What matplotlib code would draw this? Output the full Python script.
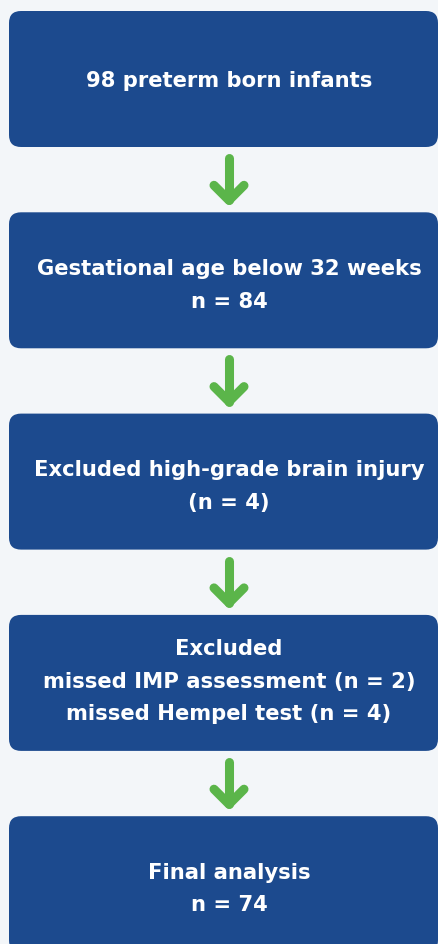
import matplotlib.pyplot as plt
from matplotlib.patches import FancyBboxPatch

# flow chart steps (top to bottom)
steps = [
    "98 preterm born infants",
    "Gestational age below 32 weeks\nn = 84",
    "Excluded high-grade brain injury\n(n = 4)",
    "Excluded\nmissed IMP assessment (n = 2)\nmissed Hempel test (n = 4)",
    "Final analysis\nn = 74",
]

W, H = 439, 945
BG = "#f3f6f9"
BOX = "#1c4a8e"
GREEN = "#5bb54a"

box_left, box_right = 9, 438
box_top0, box_h, pitch = 12, 136, 201.3

fig = plt.figure(figsize=(W / 100, H / 100), dpi=100, facecolor=BG)
ax = fig.add_axes([0, 0, 1, 1])
ax.set_xlim(0, W)
ax.set_ylim(H, 0)
ax.axis("off")
ax.set_facecolor(BG)

cx = 229
# small vertical nudge per line count, to sit text like the original
nudge = {1: 1, 2: 4, 3: -2}
for i, label in enumerate(steps):
    top = box_top0 + i * pitch
    ax.add_patch(FancyBboxPatch(
        (box_left, top), box_right - box_left, box_h,
        boxstyle="round,pad=0,rounding_size=12",
        facecolor=BOX, edgecolor="none",
    ))
    n_lines = label.count("\n") + 1
    ax.text(cx, top + box_h / 2 + nudge[n_lines], label, ha="center", va="center",
            color="white", fontsize=15.2, fontweight="bold",
            family="DejaVu Sans", linespacing=1.78)

    if i < len(steps) - 1:
        y0 = top + box_h + 11
        y1 = top + pitch - 12
        ax.plot([cx, cx], [y0, y1], color=GREEN, lw=6.5, solid_capstyle="round")
        ax.plot([cx - 15, cx, cx + 15], [y1 - 15, y1, y1 - 15], color=GREEN,
                lw=6.5, solid_capstyle="round", solid_joinstyle="round")

fig.savefig("out.png", dpi=100, facecolor=BG)
